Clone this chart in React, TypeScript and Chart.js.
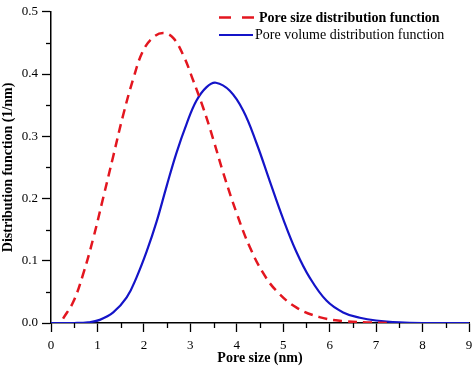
import React, { useEffect, useRef } from "react";
import { Chart, registerables } from "chart.js";

Chart.register(...registerables);

// Pore size distribution function (red dashed)
const sizeX = [0.26, 0.48, 0.69, 0.91, 1.12, 1.34, 1.55, 1.77, 1.98, 2.2, 2.42, 2.63, 2.85, 3.06, 3.28, 3.49, 3.71, 3.99, 4.28, 4.57, 4.85, 5.28, 5.78, 6.29, 6.8, 7.3];
const sizeY = [0.007, 0.034, 0.078, 0.136, 0.2, 0.268, 0.333, 0.392, 0.437, 0.459, 0.466, 0.458, 0.43, 0.39, 0.345, 0.296, 0.241, 0.178, 0.122, 0.08, 0.052, 0.025, 0.0095, 0.003, 0.001, 0];

// Pore volume distribution function (blue solid)
const volX = [0, 0.5, 0.8, 1.05, 1.34, 1.63, 1.84, 2.06, 2.27, 2.49, 2.7, 2.92, 3.13, 3.35, 3.55, 3.85, 4.14, 4.42, 4.71, 5.0, 5.28, 5.57, 5.93, 6.29, 6.65, 7.0, 7.5, 8.0, 9];
const volY = [0, 0, 0.001, 0.005, 0.017, 0.041, 0.073, 0.115, 0.162, 0.22, 0.273, 0.32, 0.357, 0.379, 0.386, 0.373, 0.341, 0.29, 0.228, 0.167, 0.115, 0.073, 0.036, 0.017, 0.0085, 0.004, 0.001, 0, 0];

const seriesNames = ["Pore size distribution function", "Pore volume distribution function"];
const xTitle = "Pore size (nm)";
const yTitle = "Distribution function (1/nm)";

const RED = "#e3161f";
const BLUE = "#1414c8";
const FONT = "'Liberation Serif', 'Times New Roman', serif";

const isMult = (v: number, step: number) => Math.abs(v / step - Math.round(v / step)) < 1e-6;

const extraPlugin = {
  id: "extras",
  afterDraw(chart: any) {
    const ctx = chart.ctx;
    const xs = chart.scales.x;
    const ys = chart.scales.y;
    ctx.save();
    ctx.strokeStyle = "#000";
    ctx.lineWidth = 1.3;
    // minor ticks
    for (let v = 0.5; v < 9; v += 1) {
      const px = Math.round(xs.getPixelForValue(v)) + 0.5;
      ctx.beginPath();
      ctx.moveTo(px, ys.bottom);
      ctx.lineTo(px, ys.bottom + 5);
      ctx.stroke();
    }
    for (let i = 0; i < 5; i++) {
      const v = 0.05 + i * 0.1;
      const py = Math.round(ys.getPixelForValue(v)) + 0.5;
      ctx.beginPath();
      ctx.moveTo(xs.left, py);
      ctx.lineTo(xs.left - 5, py);
      ctx.stroke();
    }
    // legend
    ctx.lineWidth = 2.5;
    ctx.strokeStyle = RED;
    ctx.setLineDash([12, 11]);
    ctx.beginPath();
    ctx.moveTo(219, 17.5);
    ctx.lineTo(254, 17.5);
    ctx.stroke();
    ctx.setLineDash([]);
    ctx.strokeStyle = BLUE;
    ctx.lineWidth = 2.2;
    ctx.beginPath();
    ctx.moveTo(219, 35);
    ctx.lineTo(253, 35);
    ctx.stroke();
    ctx.fillStyle = "#000";
    ctx.textBaseline = "middle";
    ctx.textAlign = "left";
    ctx.font = `bold 14px ${FONT}`;
    ctx.fillText(seriesNames[0], 259, 18);
    ctx.font = `14px ${FONT}`;
    ctx.fillText(seriesNames[1], 255, 35.5);
    ctx.restore();
  },
};

export default function App() {
  const ref = useRef<HTMLCanvasElement | null>(null);
  useEffect(() => {
    document.body.style.margin = "0";
    if (!ref.current) return;
    const chart = new Chart(ref.current, {
      type: "line",
      data: {
        datasets: [
          {
            label: seriesNames[0],
            data: sizeX.map((x, i) => ({ x, y: sizeY[i] })),
            borderColor: RED,
            borderWidth: 2.5,
            borderDash: [9, 6],
            pointRadius: 0,
            tension: 0.4,
            fill: false,
          },
          {
            label: seriesNames[1],
            data: volX.map((x, i) => ({ x, y: volY[i] })),
            borderColor: BLUE,
            borderWidth: 2.2,
            pointRadius: 0,
            tension: 0.4,
            fill: false,
          },
        ],
      },
      options: {
        animation: false,
        responsive: false,
        layout: { padding: { left: 0, top: 6, right: 5, bottom: 0 } },
        plugins: { legend: { display: false }, tooltip: { enabled: false } },
        scales: {
          x: {
            type: "linear",
            min: 0,
            max: 9,
            afterFit: (s: any) => {
              s.height = 45;
              s.paddingLeft = 0;
              s.paddingRight = 0;
            },
            border: { display: true, color: "#000", width: 1.5 },
            grid: {
              drawOnChartArea: false,
              drawTicks: true,
              tickLength: 9,
              tickWidth: 1.3,
              tickColor: "#000",
            },
            ticks: {
              stepSize: 1,
              autoSkip: false,
              maxRotation: 0,
              padding: 6,
              color: "#000",
              font: { family: FONT, size: 13 },
              callback: (v: any) => String(v),
            },
            title: {
              display: true,
              text: xTitle,
              color: "#000",
              font: { family: FONT, size: 14, weight: "bold" },
              padding: { top: 0, bottom: 1 },
            },
          },
          y: {
            min: 0,
            max: 0.5,
            afterFit: (s: any) => {
              s.width = 51;
            },
            border: { display: true, color: "#000", width: 1.5 },
            grid: {
              drawOnChartArea: false,
              drawTicks: true,
              tickLength: 9,
              tickWidth: 1.3,
              tickColor: "#000",
            },
            ticks: {
              stepSize: 0.1,
              autoSkip: false,
              padding: 4,
              color: "#000",
              font: { family: FONT, size: 13 },
              callback: (v: any) => (isMult(Number(v), 0.1) ? Number(v).toFixed(1) : ""),
            },
            title: {
              display: true,
              text: yTitle,
              color: "#000",
              font: { family: FONT, size: 14, weight: "bold" },
              padding: { top: 0, bottom: 0 },
            },
          },
        },
      },
      plugins: [extraPlugin],
    });
    return () => chart.destroy();
  }, []);
  return (
    <div style={{ width: 474, height: 368 }}>
      <canvas ref={ref} width={474} height={368} />
    </div>
  );
}
